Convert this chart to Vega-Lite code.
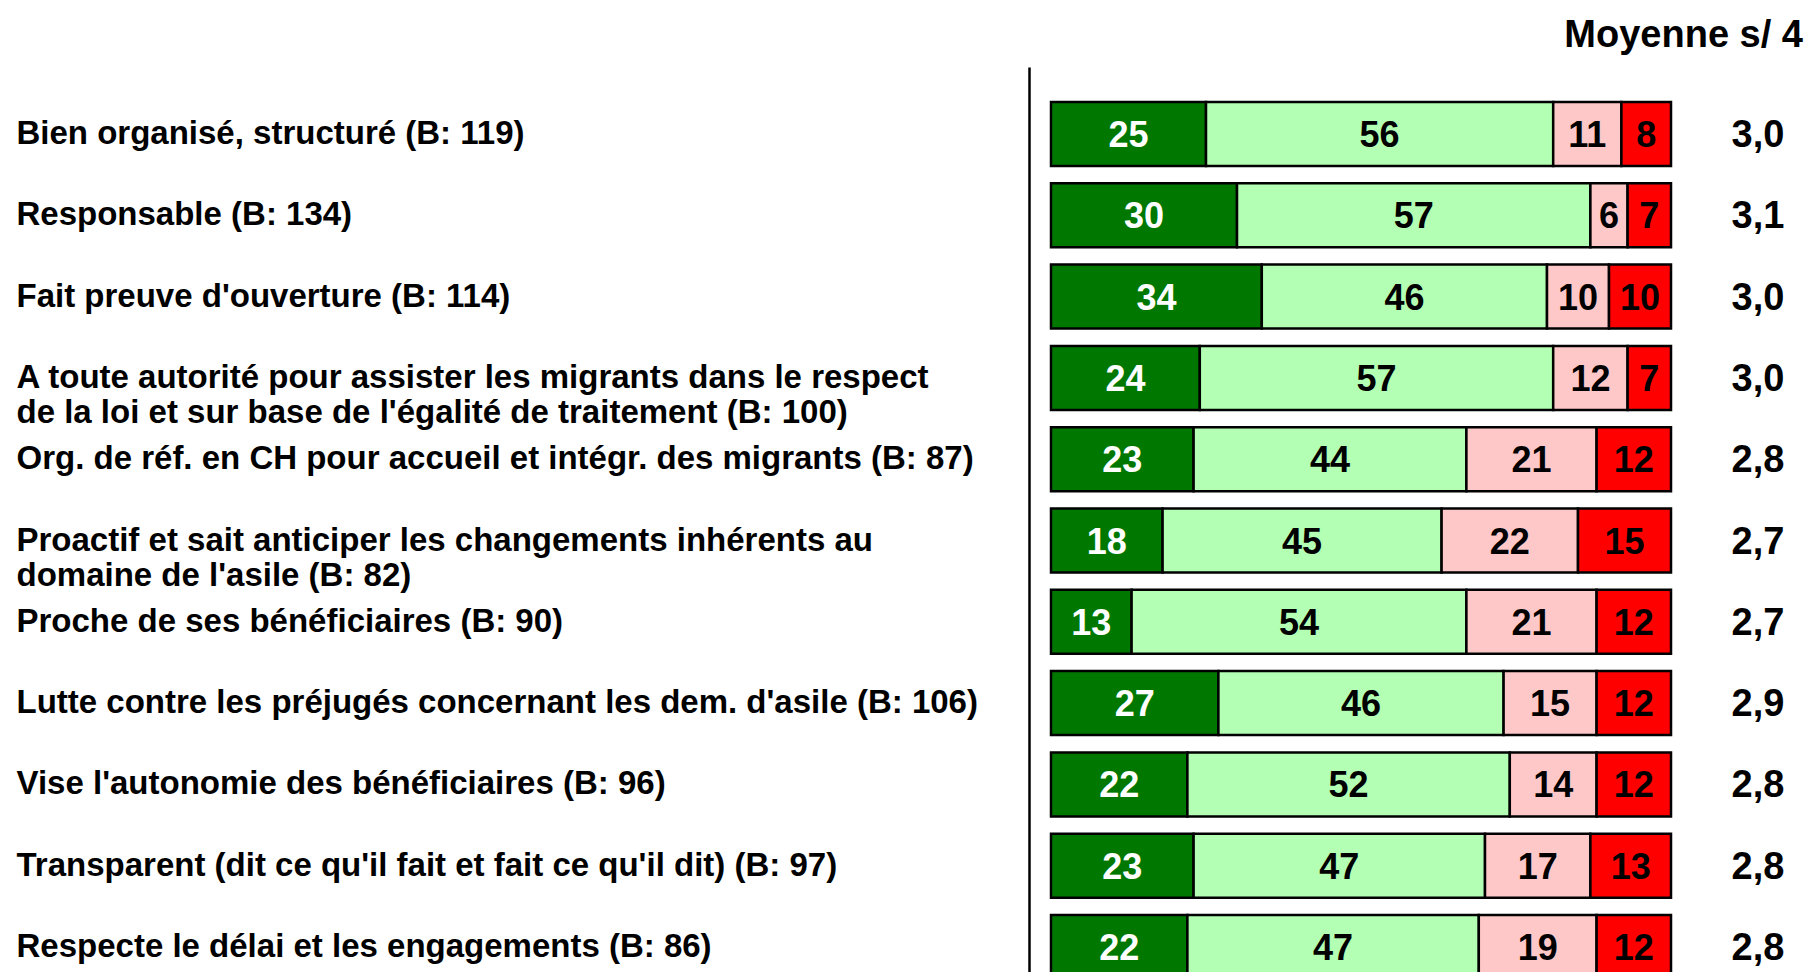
{
  "$schema": "https://vega.github.io/schema/vega-lite/v6.json",
  "width": 620,
  "height": 905,
  "autosize": {"type": "none"},
  "padding": {"left": 1051, "top": 67, "right": 138, "bottom": 0},
  "background": "white",
  "config": {
    "view": {"stroke": null},
    "font": "Liberation Sans, Arial, sans-serif"
  },
  "data": {
    "values": [
      {"item": "Bien organisé, structuré (B: 119)", "a": 25, "b": 56, "c": 11, "d": 8, "moyenne": "3,0"},
      {"item": "Responsable (B: 134)", "a": 30, "b": 57, "c": 6, "d": 7, "moyenne": "3,1"},
      {"item": "Fait preuve d'ouverture (B: 114)", "a": 34, "b": 46, "c": 10, "d": 10, "moyenne": "3,0"},
      {"item": "A toute autorité pour assister les migrants dans le respect|de la loi et sur base de l'égalité de traitement (B: 100)", "a": 24, "b": 57, "c": 12, "d": 7, "moyenne": "3,0"},
      {"item": "Org. de réf. en CH pour accueil et intégr. des migrants (B: 87)", "a": 23, "b": 44, "c": 21, "d": 12, "moyenne": "2,8"},
      {"item": "Proactif et sait anticiper les changements inhérents au|domaine de l'asile (B: 82)", "a": 18, "b": 45, "c": 22, "d": 15, "moyenne": "2,7"},
      {"item": "Proche de ses bénéficiaires (B: 90)", "a": 13, "b": 54, "c": 21, "d": 12, "moyenne": "2,7"},
      {"item": "Lutte contre les préjugés concernant les dem. d'asile (B: 106)", "a": 27, "b": 46, "c": 15, "d": 12, "moyenne": "2,9"},
      {"item": "Vise l'autonomie des bénéficiaires (B: 96)", "a": 22, "b": 52, "c": 14, "d": 12, "moyenne": "2,8"},
      {"item": "Transparent (dit ce qu'il fait et fait ce qu'il dit) (B: 97)", "a": 23, "b": 47, "c": 17, "d": 13, "moyenne": "2,8"},
      {"item": "Respecte le délai et les engagements (B: 86)", "a": 22, "b": 47, "c": 19, "d": 12, "moyenne": "2,8"}
    ]
  },
  "layer": [
    {
      "transform": [{"fold": ["a", "b", "c", "d"], "as": ["key", "value"]}],
      "mark": {"type": "bar", "stroke": "black", "strokeWidth": 2.5},
      "encoding": {
        "y": {
          "field": "item",
          "type": "nominal",
          "sort": null,
          "scale": {
            "domain": [
              "Bien organisé, structuré (B: 119)",
              "Responsable (B: 134)",
              "Fait preuve d'ouverture (B: 114)",
              "A toute autorité pour assister les migrants dans le respect|de la loi et sur base de l'égalité de traitement (B: 100)",
              "Org. de réf. en CH pour accueil et intégr. des migrants (B: 87)",
              "Proactif et sait anticiper les changements inhérents au|domaine de l'asile (B: 82)",
              "Proche de ses bénéficiaires (B: 90)",
              "Lutte contre les préjugés concernant les dem. d'asile (B: 106)",
              "Vise l'autonomie des bénéficiaires (B: 96)",
              "Transparent (dit ce qu'il fait et fait ce qu'il dit) (B: 97)",
              "Respecte le délai et les engagements (B: 86)"
            ],
            "range": [0, 947],
            "paddingInner": 0.213,
            "paddingOuter": 0.43
          },
          "axis": {
            "title": null,
            "domain": true,
            "domainColor": "black",
            "domainWidth": 2.5,
            "offset": 22,
            "ticks": false,
            "tickSize": 0,
            "grid": false,
            "labelAlign": "left",
            "labelBaseline": "middle",
            "labelPadding": 1013,
            "labelFontSize": 33,
            "labelFontWeight": "bold",
            "labelColor": "black",
            "labelLimit": 0,
            "labelLineHeight": 35,
            "labelFont": "Liberation Sans, Arial, sans-serif",
            "labelExpr": "split(datum.label, '|')"
          }
        },
        "x": {"field": "value", "type": "quantitative", "stack": "zero", "scale": {"domain": [0, 100], "nice": false}, "axis": null},
        "color": {"field": "key", "type": "nominal", "scale": {"domain": ["a", "b", "c", "d"], "range": ["#007800", "#B3FFB3", "#FFC8C8", "#FF0000"]}, "legend": null},
        "order": {"field": "key", "sort": "ascending"}
      }
    },
    {
      "transform": [{"fold": ["a", "b", "c", "d"], "as": ["key", "value"]}],
      "mark": {"type": "text", "fontSize": 36, "fontWeight": "bold", "align": "center", "baseline": "middle", "dy": 2},
      "encoding": {
        "y": {"field": "item", "type": "nominal"},
        "x": {"field": "value", "type": "quantitative", "stack": "zero", "bandPosition": 0.5},
        "detail": {"field": "key"},
        "order": {"field": "key", "sort": "ascending"},
        "text": {"field": "value", "type": "quantitative"},
        "color": {"condition": {"test": "datum.key === 'a'", "value": "white"}, "value": "black"}
      }
    },
    {
      "mark": {"type": "text", "fontSize": 38, "fontWeight": "bold", "align": "center", "baseline": "middle", "dx": 87, "dy": 2, "color": "black"},
      "encoding": {
        "y": {"field": "item", "type": "nominal"},
        "x": {"datum": 100, "type": "quantitative"},
        "text": {"field": "moyenne", "type": "nominal"}
      }
    },
    {
      "transform": [{"filter": "datum.item === 'Bien organisé, structuré (B: 119)'"}],
      "mark": {"type": "text", "fontSize": 38, "fontWeight": "bold", "align": "right", "baseline": "alphabetic", "dx": 132, "dy": -87, "color": "black"},
      "encoding": {
        "y": {"field": "item", "type": "nominal"},
        "x": {"datum": 100, "type": "quantitative"},
        "text": {"value": "Moyenne s/ 4"}
      }
    }
  ]
}
